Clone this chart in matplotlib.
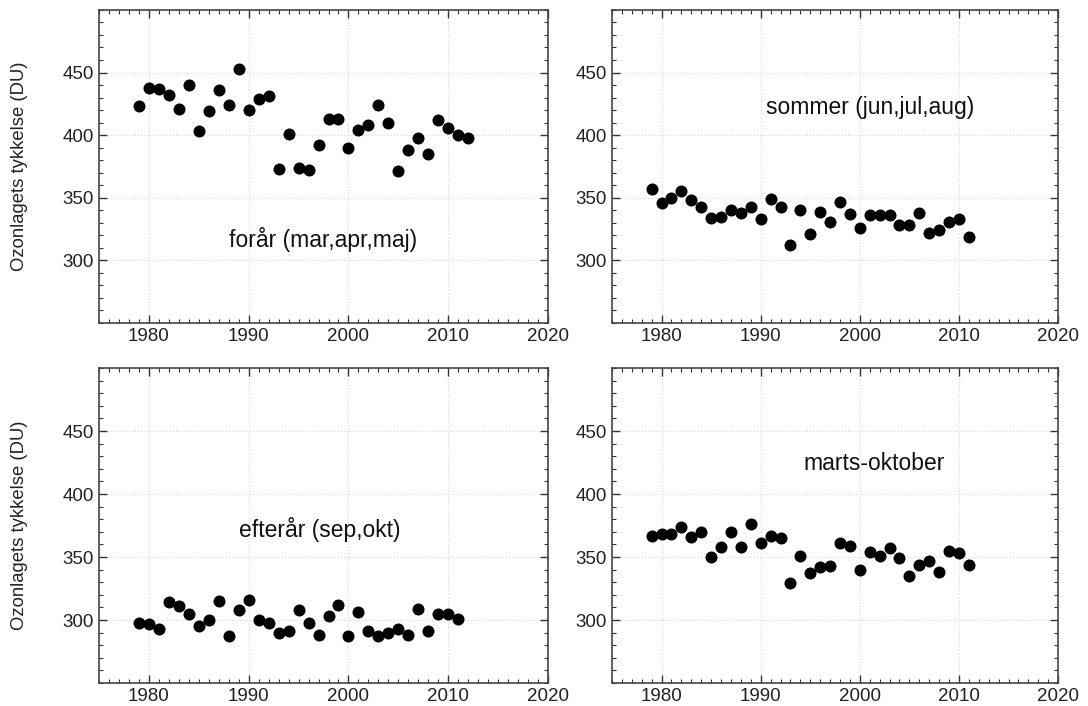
import matplotlib.pyplot as plt
from matplotlib.ticker import MultipleLocator

plt.rcParams['font.family'] = ['Liberation Sans', 'DejaVu Sans']

# ozonlag data
aar_foraar = list(range(1979, 2013))
foraar = [423, 438, 437, 432, 421, 440, 403, 419, 436, 424, 453, 420, 429, 431,
          373, 401, 374, 372, 392, 413, 413, 390, 404, 408, 424, 410, 371, 388,
          398, 385, 412, 406, 400, 398]

aar = list(range(1979, 2012))
sommer = [357, 346, 350, 355, 348, 343, 334, 335, 340, 338, 343, 333, 349, 343,
          312, 340, 321, 339, 331, 347, 337, 326, 336, 336, 336, 328, 328, 338,
          322, 324, 331, 333, 319]
efteraar = [298, 297, 293, 314, 311, 305, 295, 300, 315, 287, 308, 316, 300, 298,
            290, 291, 308, 298, 288, 303, 312, 287, 306, 291, 287, 290, 293, 288,
            309, 291, 305, 305, 301]
marts_okt = [367, 368, 368, 374, 366, 370, 350, 358, 370, 358, 376, 361, 367, 365,
             329, 351, 337, 342, 343, 361, 359, 340, 354, 351, 357, 349, 335, 344,
             347, 338, 355, 353, 344]

titler = ['forår (mar,apr,maj)', 'sommer (jun,jul,aug)', 'efterår (sep,okt)', 'marts-oktober']
tekst_x = [1997.5, 2001, 1997.1, 2001.4]
tekst_y = [317, 422, 372, 424]


def lav_panel(ax, x, y, titel, tx, ty, ylabel):
    ax.scatter(x, y, s=75, color='black', zorder=3, linewidths=0)
    ax.set_xlim(1975, 2020)
    ax.set_ylim(250, 500)
    ax.xaxis.set_major_locator(MultipleLocator(10))
    ax.xaxis.set_minor_locator(MultipleLocator(1))
    ax.yaxis.set_minor_locator(MultipleLocator(10))
    ax.set_yticks([300, 350, 400, 450])
    ax.tick_params(which='both', direction='in', top=True, right=True,
                   labelsize=13.5, colors='#333333', labelcolor='#222222')
    ax.tick_params(which='major', length=6, width=1)
    ax.tick_params(which='minor', length=3, width=0.8)
    ax.grid(True, which='major', linestyle=':', color='#d8d8d8', linewidth=0.8)
    for sp in ax.spines.values():
        sp.set_color('#444444')
        sp.set_linewidth(1.2)
    ax.text(tx, ty, titel, ha='center', va='center', fontsize=16.5, color='#111111')
    if ylabel:
        ax.set_ylabel('Ozonlagets tykkelse (DU)', fontsize=13.3, color='#222222')
        ax.yaxis.set_label_coords(-0.158, 0.5)


fig = plt.figure(figsize=(10.88, 7.06), dpi=100)
ax1 = fig.add_axes([0.091, 0.5425, 0.4127, 0.4435])
ax2 = fig.add_axes([0.5625, 0.5425, 0.41, 0.4435])
ax3 = fig.add_axes([0.091, 0.0326, 0.4127, 0.446])
ax4 = fig.add_axes([0.5625, 0.0326, 0.41, 0.446])

lav_panel(ax1, aar_foraar, foraar, titler[0], tekst_x[0], tekst_y[0], True)
lav_panel(ax2, aar, sommer, titler[1], tekst_x[1], tekst_y[1], False)
lav_panel(ax3, aar, efteraar, titler[2], tekst_x[2], tekst_y[2], True)
lav_panel(ax4, aar, marts_okt, titler[3], tekst_x[3], tekst_y[3], False)

fig.savefig('out.png', dpi=100)
